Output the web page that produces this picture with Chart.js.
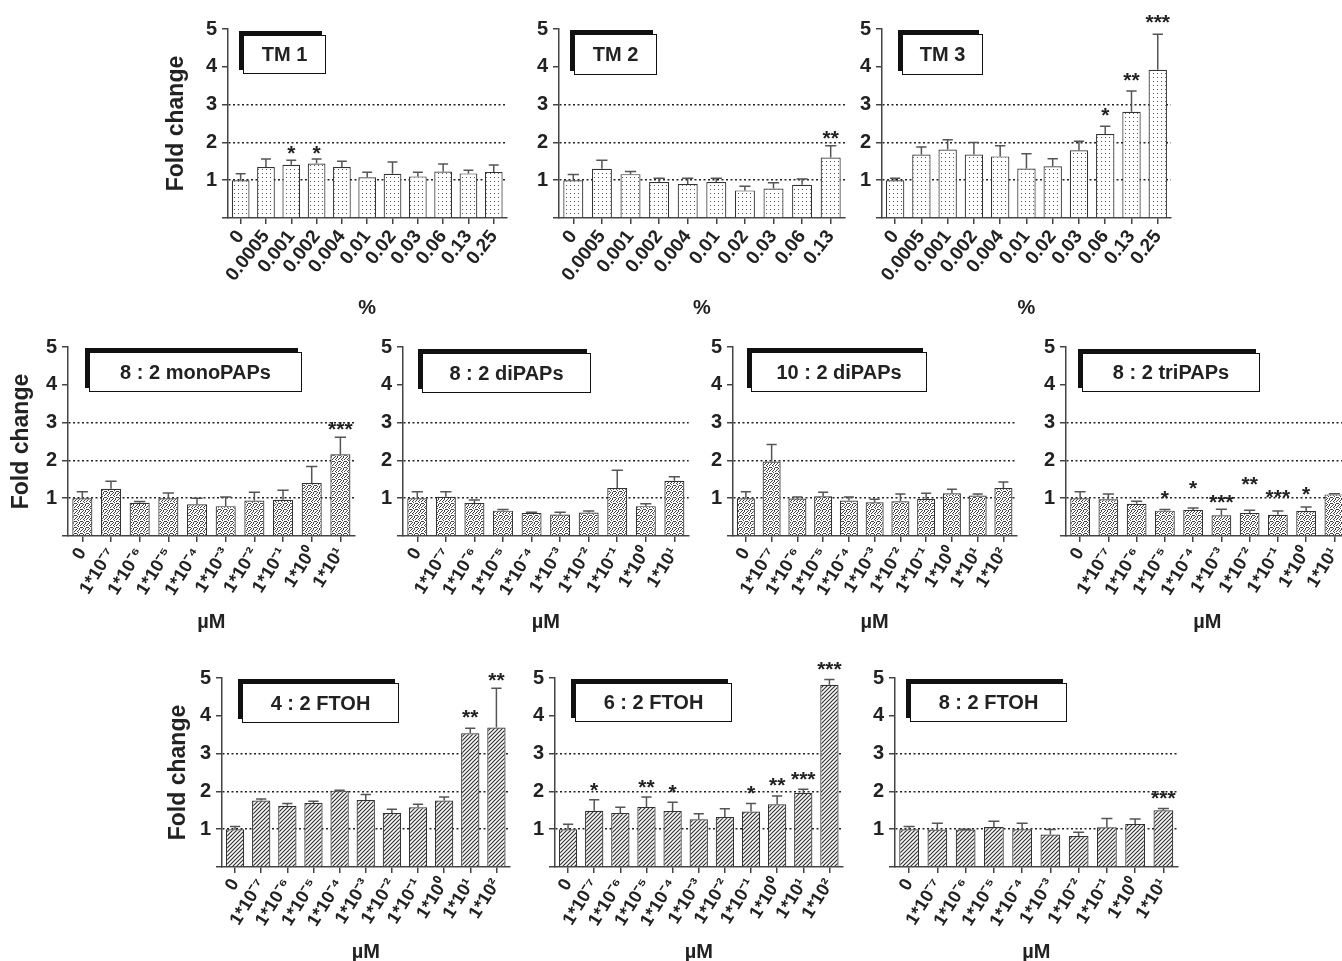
<!DOCTYPE html>
<html>
<head>
<meta charset="utf-8">
<script src="https://cdn.jsdelivr.net/npm/chart.js@4.4.0/dist/chart.umd.min.js"></script>
<style>
  body { margin: 0; width: 1342px; height: 961px; overflow: hidden; background: #fff; position: relative;
         font-family: 'Liberation Sans', Arial, sans-serif; }
  canvas { position: absolute; }
  .tag { position: absolute; box-sizing: border-box; background: #fff; border: 1.5px solid #111;
         box-shadow: -4px -4px 0 #111; display: flex; align-items: center; justify-content: center;
         font-weight: bold; font-size: 20px; color: #222; z-index: 2; white-space: pre; }
</style>
</head>
<body>
<script>
// x categories
const pctLabels11 = ['0', '0.0005', '0.001', '0.002', '0.004', '0.01', '0.02', '0.03', '0.06', '0.13', '0.25'];
const pctLabels10 = ['0', '0.0005', '0.001', '0.002', '0.004', '0.01', '0.02', '0.03', '0.06', '0.13'];
const umLabels10 = ['0', '1*10⁻⁷', '1*10⁻⁶', '1*10⁻⁵', '1*10⁻⁴', '1*10⁻³', '1*10⁻²', '1*10⁻¹', '1*10⁰', '1*10¹'];
const umLabels11 = ['0', '1*10⁻⁷', '1*10⁻⁶', '1*10⁻⁵', '1*10⁻⁴', '1*10⁻³', '1*10⁻²', '1*10⁻¹', '1*10⁰', '1*10¹', '1*10²'];
const yTicks = [0, 1, 2, 3, 4, 5];

// fold change (mean) and upper error per panel
const tm1Mean = [1.00, 1.35, 1.41, 1.44, 1.35, 1.08, 1.17, 1.10, 1.23, 1.18, 1.22];
const tm1Err  = [0.17, 0.21, 0.12, 0.12, 0.15, 0.13, 0.31, 0.11, 0.20, 0.08, 0.18];
const tm1Stars  = ['', '', '*', '*', '', '', '', '', '', '', ''];
const tm1StarAt = [null, null, 1.85, 1.85, null, null, null, null, null, null, null];

const tm2Mean = [1.00, 1.30, 1.16, 0.95, 0.90, 0.95, 0.73, 0.78, 0.88, 1.60];
const tm2Err  = [0.15, 0.23, 0.07, 0.10, 0.15, 0.10, 0.11, 0.15, 0.15, 0.31];
const tm2Stars  = ['', '', '', '', '', '', '', '', '', '**'];
const tm2StarAt = [null, null, null, null, null, null, null, null, null, 2.25];

const tm3Mean = [1.00, 1.68, 1.81, 1.68, 1.63, 1.31, 1.37, 1.79, 2.22, 2.81, 3.92];
const tm3Err  = [0.05, 0.20, 0.26, 0.32, 0.28, 0.39, 0.20, 0.24, 0.21, 0.55, 0.94];
const tm3Stars  = ['', '', '', '', '', '', '', '', '*', '**', '***'];
const tm3StarAt = [null, null, null, null, null, null, null, null, 2.85, 3.77, 5.33];

const monoMean = [1.00, 1.25, 0.88, 1.00, 0.84, 0.79, 0.94, 0.96, 1.40, 2.16];
const monoErr  = [0.17, 0.20, 0.03, 0.14, 0.16, 0.24, 0.22, 0.25, 0.44, 0.45];
const monoStars  = ['', '', '', '', '', '', '', '', '', '***'];
const monoStarAt = [null, null, null, null, null, null, null, null, null, 2.97];

const di8Mean = [1.00, 1.04, 0.87, 0.67, 0.61, 0.57, 0.62, 1.27, 0.79, 1.46];
const di8Err  = [0.17, 0.13, 0.08, 0.03, 0.02, 0.06, 0.04, 0.47, 0.06, 0.11];
const di8Stars  = ['', '', '', '', '', '', '', '', '', ''];
const di8StarAt = [null, null, null, null, null, null, null, null, null, null];

const di10Mean = [1.00, 1.97, 0.99, 1.05, 0.94, 0.89, 0.92, 0.98, 1.13, 1.07, 1.27];
const di10Err  = [0.17, 0.45, 0.04, 0.11, 0.09, 0.08, 0.19, 0.15, 0.11, 0.04, 0.16];
const di10Stars  = ['', '', '', '', '', '', '', '', '', '', ''];
const di10StarAt = [null, null, null, null, null, null, null, null, null, null, null];

const triMean = [1.00, 0.97, 0.85, 0.67, 0.69, 0.55, 0.61, 0.56, 0.66, 1.10];
const triErr  = [0.17, 0.14, 0.07, 0.03, 0.05, 0.16, 0.07, 0.10, 0.11, 0.02];
const triStars  = ['', '', '', '*', '*', '***', '**', '***', '*', ''];
const triStarAt = [null, null, null, 1.14, 1.41, 1.04, 1.50, 1.16, 1.25, null];

const ft4Mean = [1.00, 1.76, 1.62, 1.69, 2.02, 1.77, 1.43, 1.58, 1.76, 3.54, 3.69];
const ft4Err  = [0.07, 0.04, 0.06, 0.05, 0.01, 0.15, 0.10, 0.08, 0.09, 0.13, 1.04];
const ft4Stars  = ['', '', '', '', '', '', '', '', '', '**', '**'];
const ft4StarAt = [null, null, null, null, null, null, null, null, null, 4.10, 5.09];

const ft6Mean = [1.00, 1.49, 1.43, 1.59, 1.48, 1.26, 1.32, 1.47, 1.66, 1.96, 4.82];
const ft6Err  = [0.13, 0.29, 0.15, 0.26, 0.23, 0.15, 0.22, 0.21, 0.22, 0.10, 0.14];
const ft6Stars  = ['', '*', '', '**', '*', '', '', '*', '**', '***', '***'];
const ft6StarAt = [null, 2.16, null, 2.24, 2.11, null, null, 2.09, 2.29, 2.47, 5.38];

const ft8Mean = [1.00, 0.99, 0.99, 1.06, 1.00, 0.86, 0.82, 1.05, 1.14, 1.50];
const ft8Err  = [0.07, 0.17, 0.01, 0.15, 0.16, 0.13, 0.10, 0.23, 0.13, 0.05];
const ft8Stars  = ['', '', '', '', '', '', '', '', '', '***'];
const ft8StarAt = [null, null, null, null, null, null, null, null, null, 1.96];

const FONT = "'Liberation Sans', Arial, sans-serif";

// bar fill patterns
function makePattern(kind) {
  const c = document.createElement('canvas');
  const g = c.getContext('2d');
  const n = kind === 'speckle' ? 6 : 4;
  c.width = n; c.height = n;
  g.fillStyle = '#fff';
  g.fillRect(0, 0, n, n);
  if (kind === 'dots') {
    g.fillStyle = '#555';
    g.fillRect(1, 1, 1, 1);
  } else if (kind === 'speckle') {
    // scattered specks, like a stipple screen
    g.fillStyle = '#444';
    [[0, 0], [3, 0], [5, 1], [1, 2], [4, 2], [2, 3], [0, 4], [5, 4], [3, 5], [1, 5], [2, 1], [4, 4]]
      .forEach(([x, y]) => g.fillRect(x, y, 1, 1));
  } else {
    g.strokeStyle = '#333';
    g.lineWidth = 1.2;
    g.beginPath();
    g.moveTo(-1, 5); g.lineTo(5, -1);
    g.moveTo(-1, 1); g.lineTo(1, -1);
    g.moveTo(3, 5); g.lineTo(5, 3);
    g.stroke();
  }
  return g.createPattern(c, 'repeat');
}
const fills = { dots: makePattern('dots'), speckle: makePattern('speckle'), hatch: makePattern('hatch') };

// error bars and significance stars
const errStars = {
  id: 'errStars',
  afterDatasetsDraw(chart) {
    const ctx = chart.ctx, y = chart.scales.y, ds = chart.data.datasets[0];
    ctx.save();
    chart.getDatasetMeta(0).data.forEach((bar, i) => {
      const top = y.getPixelForValue(ds.data[i] + ds.errors[i]);
      const hw = bar.width * 0.28;
      ctx.strokeStyle = '#555';
      ctx.lineWidth = 1.5;
      ctx.beginPath();
      ctx.moveTo(bar.x, bar.y);
      ctx.lineTo(bar.x, top);
      ctx.moveTo(bar.x - hw, top);
      ctx.lineTo(bar.x + hw, top);
      ctx.stroke();
      if (ds.stars[i]) {
        ctx.fillStyle = '#222';
        ctx.font = 'bold 21px ' + FONT;
        ctx.textAlign = 'center';
        ctx.textBaseline = 'alphabetic';
        ctx.fillText(ds.stars[i], bar.x, y.getPixelForValue(ds.starAt[i]) + 12);
      }
    });
    ctx.restore();
  }
};

const row1 = { T: 29.3, B: 218.3, padTop: 29, H: 100, rot: 52, tickSize: 19, xTitle: '%' };
const row2 = { T: 347.3, B: 536.7, padTop: 22, H: 96, rot: 58, tickSize: 18, xTitle: 'µM' };
const row3 = { T: 678.3, B: 867.3, padTop: 26, H: 95, rot: 58, tickSize: 18, xTitle: 'µM' };

const panels = [
  { row: row1, name: 'TM 1', labels: pctLabels11, mean: tm1Mean, err: tm1Err, stars: tm1Stars, starAt: tm1StarAt,
    fill: 'dots', L: 228.3, R: 508, W: 63, yTitle: true, box: [243, 35, 83, 39] },
  { row: row1, name: 'TM 2', labels: pctLabels10, mean: tm2Mean, err: tm2Err, stars: tm2Stars, starAt: tm2StarAt,
    fill: 'dots', L: 559.3, R: 845, W: 34, yTitle: false, box: [574, 34, 83, 41] },
  { row: row1, name: 'TM 3', labels: pctLabels11, mean: tm3Mean, err: tm3Err, stars: tm3Stars, starAt: tm3StarAt,
    fill: 'dots', L: 881.7, R: 1171.7, W: 34, yTitle: false, box: [902, 34, 81, 41] },
  { row: row2, name: '8 : 2 monoPAPs', labels: umLabels10, mean: monoMean, err: monoErr, stars: monoStars, starAt: monoStarAt,
    fill: 'speckle', L: 68.3, R: 355, W: 58, yTitle: true, box: [89, 352, 213, 40] },
  { row: row2, name: '8 : 2 diPAPs', labels: umLabels10, mean: di8Mean, err: di8Err, stars: di8Stars, starAt: di8StarAt,
    fill: 'speckle', L: 403.3, R: 689, W: 34, yTitle: false, box: [422, 353, 169, 40] },
  { row: row2, name: '10 : 2 diPAPs', labels: umLabels11, mean: di10Mean, err: di10Err, stars: di10Stars, starAt: di10StarAt,
    fill: 'speckle', L: 733.3, R: 1018, W: 34, yTitle: false, box: [751, 352, 176, 40] },
  { row: row2, name: '8 : 2 triPAPs', labels: umLabels10, mean: triMean, err: triErr, stars: triStars, starAt: triStarAt,
    fill: 'speckle', L: 1066, R: 1349, W: 34, yTitle: false, box: [1082, 353, 178, 39] },
  { row: row3, name: '4 : 2 FTOH', labels: umLabels11, mean: ft4Mean, err: ft4Err, stars: ft4Stars, starAt: ft4StarAt,
    fill: 'hatch', L: 221.7, R: 511, W: 55, yTitle: true, box: [242, 683, 157, 40] },
  { row: row3, name: '6 : 2 FTOH', labels: umLabels11, mean: ft6Mean, err: ft6Err, stars: ft6Stars, starAt: ft6StarAt,
    fill: 'hatch', L: 555, R: 844, W: 34, yTitle: false, box: [575, 683, 157, 39] },
  { row: row3, name: '8 : 2 FTOH', labels: umLabels10, mean: ft8Mean, err: ft8Err, stars: ft8Stars, starAt: ft8StarAt,
    fill: 'hatch', L: 895, R: 1178, W: 34, yTitle: false, box: [910, 683, 157, 39] }
];

function makeChart(p) {
  const r = p.row, padRight = 6;
  const cw = Math.round(p.W + (p.R - p.L) + padRight);
  const ch = Math.round(r.padTop + (r.B - r.T) + r.H);
  const cv = document.createElement('canvas');
  cv.width = cw; cv.height = ch;
  cv.style.width = cw + 'px'; cv.style.height = ch + 'px';
  cv.style.left = (p.L - p.W) + 'px';
  cv.style.top = (r.T - r.padTop) + 'px';
  document.body.appendChild(cv);

  new Chart(cv, {
    type: 'bar',
    data: {
      labels: p.labels,
      datasets: [{
        data: p.mean, errors: p.err, stars: p.stars, starAt: p.starAt,
        backgroundColor: fills[p.fill], borderColor: '#333', borderWidth: 1.2,
        barPercentage: 0.7, categoryPercentage: 1
      }]
    },
    options: {
      responsive: false,
      animation: false,
      layout: { padding: { top: r.padTop, right: padRight, left: 0, bottom: 0 } },
      plugins: { legend: { display: false }, tooltip: { enabled: false } },
      scales: {
        x: {
          offset: true,
          grid: { offset: false, drawOnChartArea: false, color: '#444', lineWidth: 1.5, tickLength: 6 },
          border: { color: '#444', width: 1.5 },
          ticks: { autoSkip: false, maxRotation: r.rot, minRotation: r.rot, padding: 2, color: '#222',
                   font: { family: FONT, size: r.tickSize, weight: 'bold' } },
          title: { display: true, text: r.xTitle, padding: 0, color: '#222',
                   font: { family: FONT, size: 20, weight: 'bold', lineHeight: 1 } },
          afterFit: s => { s.height = r.H; }
        },
        y: {
          min: 0, max: 5,
          afterBuildTicks: s => { s.ticks = yTicks.map(v => ({ value: v })); },
          ticks: { padding: 5, color: '#222', font: { family: FONT, size: 20, weight: 'bold' },
                   callback: v => (v === 0 ? '' : v) },
          grid: {
            color: c => (c.tick && c.tick.value >= 1 && c.tick.value <= 3) ? '#222' : 'rgba(0,0,0,0)',
            lineWidth: 1.5, tickColor: '#444', tickLength: 6, tickWidth: 1.5
          },
          border: { color: '#444', width: 1.5, dash: [2, 2.5] },
          title: { display: p.yTitle, text: 'Fold change', padding: 0, color: '#222',
                   font: { family: FONT, size: 23, weight: 'bold', lineHeight: 1 } },
          afterFit: s => { s.width = p.W; }
        }
      }
    },
    plugins: [errStars]
  });

  const tag = document.createElement('div');
  tag.className = 'tag';
  tag.textContent = p.name;
  tag.style.left = p.box[0] + 'px';
  tag.style.top = p.box[1] + 'px';
  tag.style.width = p.box[2] + 'px';
  tag.style.height = p.box[3] + 'px';
  document.body.appendChild(tag);
}

panels.forEach(makeChart);
</script>
</body>
</html>
